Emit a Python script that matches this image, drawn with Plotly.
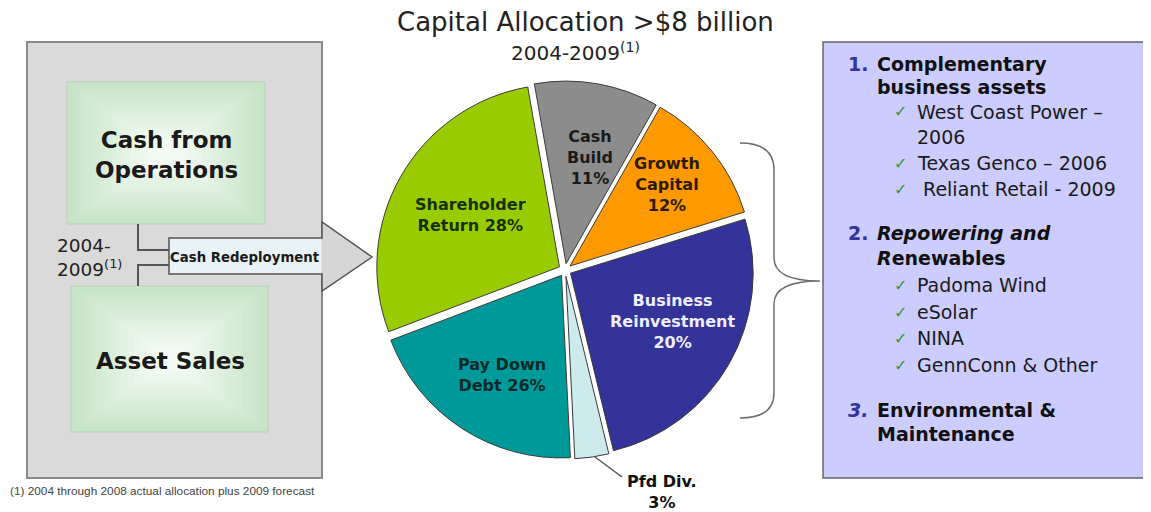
import plotly.graph_objects as go

# page body has an 8px margin, so the figure is offset by 8px inside the 1151x512 window
OFF = 8
W, H = 1151 - OFF, 512 - OFF

# ---------------- data ----------------
slice_labels = ["Cash Build", "Growth Capital", "Business Reinvestment",
                "Pfd Div.", "Pay Down Debt", "Shareholder Return"]
slice_share = [11, 12, 26, 3, 20, 28]          # angular share as drawn
slice_colors = ["#8c8c8c", "#ff9900", "#333399", "#cdeaec", "#009999", "#99cc00"]
slice_text = ["Cash<br>Build<br>11%", "Growth<br>Capital<br>12%",
              "Business<br>Reinvestment<br>20%", "Pfd Div.<br>3%",
              "Pay Down<br>Debt 26%", "Shareholder<br>Return 28%"]
slice_text_color = ["#1a1a1a", "#2b1a00", "#eeeeff", "#111111", "#0b2a2a", "#17300a"]

title_text = "Capital Allocation >$8 billion"
subtitle_text = "2004-2009<sup>(1)</sup>"
source_boxes = ["Cash from<br>Operations", "Asset Sales"]
period_text = "2004-<br>2009<sup>(1)</sup>"
arrow_text = "Cash Redeployment"
footnote = "(1) 2004 through 2008 actual allocation plus 2009 forecast"

section_nums = ["1.", "2.", "<i>3.</i>"]
section_heads = [["Complementary", "business assets"],
                 ["<i>Repowering and</i>", "<i>R</i>enewables"],
                 ["Environmental &", "Maintenance"]]
section_items = [["West Coast Power –", "2006", "Texas Genco – 2006", " Reliant Retail - 2009"],
                 ["Padoma Wind", "eSolar", "NINA", "GennConn & Other"],
                 []]
item_checks = [[True, False, True, True], [True, True, True, True], []]

FONT = "DejaVu Sans"


def px(x):
    return (x - OFF) / W


def py(y):
    return 1 - (y - OFF) / H


fig = go.Figure()

# ---------------- pie ----------------
cx, cy, D = 565, 270, 378
fig.add_trace(go.Pie(
    values=slice_share, labels=slice_labels, sort=False, direction="clockwise",
    rotation=-10, pull=0.035,
    marker=dict(colors=slice_colors, line=dict(color="#3a3a3a", width=1)),
    textinfo="none", hoverinfo="skip", showlegend=False,
    domain=dict(x=[px(cx - D / 2), px(cx + D / 2)], y=[py(cy + D / 2), py(cy - D / 2)]),
))

shapes = []
ann = []


def text(x, y, t, size, color="#1a1a1a", bold=False, xanchor="left", family=FONT, yanchor="middle", align="left"):
    if bold:
        t = "<b>" + t + "</b>"
    ann.append(dict(x=px(x), y=py(y), xref="paper", yref="paper", text=t, showarrow=False,
                    xanchor=xanchor, yanchor=yanchor, align=align,
                    font=dict(family=family, size=size, color=color)))


# ---------------- left panel ----------------
shapes.append(dict(type="rect", xref="paper", yref="paper", x0=px(27), x1=px(322), y0=py(478), y1=py(42),
                   fillcolor="#dadada", line=dict(color="#8a8a8a", width=2), layer="below"))


def grad_box(x0, y0, x1, y1):
    n = 14
    c_out = (198, 229, 198)
    c_in = (247, 252, 247)
    hw, hh = (x1 - x0) / 2, (y1 - y0) / 2
    mx, my = (x0 + x1) / 2, (y0 + y1) / 2
    for i in range(n):
        f = i / n
        c = tuple(int(c_out[k] + (c_in[k] - c_out[k]) * f) for k in range(3))
        s = 1 - 0.9 * f
        shapes.append(dict(type="rect", xref="paper", yref="paper",
                           x0=px(mx - hw * s), x1=px(mx + hw * s),
                           y0=py(my + hh * s), y1=py(my - hh * s),
                           fillcolor="rgb(%d,%d,%d)" % c, line=dict(width=0), layer="below"))
    shapes.append(dict(type="rect", xref="paper", yref="paper", x0=px(x0), x1=px(x1), y0=py(y1), y1=py(y0),
                       fillcolor="rgba(0,0,0,0)", line=dict(color="#b9cfb9", width=1), layer="below"))


grad_box(67, 82, 265, 224)
grad_box(71, 286, 268, 432)

# connectors
shapes.append(dict(type="path", xref="paper", yref="paper",
                   path="M %f,%f L %f,%f L %f,%f" % (px(138), py(224), px(138), py(250), px(169), py(250)),
                   line=dict(color="#555555", width=2)))
shapes.append(dict(type="path", xref="paper", yref="paper",
                   path="M %f,%f L %f,%f L %f,%f" % (px(169), py(265), px(138), py(265), px(138), py(286)),
                   line=dict(color="#555555", width=2)))

# arrow
pts = [(169, 238), (322, 238), (322, 222), (372, 257), (322, 291), (322, 274), (169, 274)]
path = "M " + " L ".join("%f,%f" % (px(a), py(b)) for a, b in pts) + " Z"
shapes.append(dict(type="path", xref="paper", yref="paper", path=path,
                   fillcolor="#d6d6d6", line=dict(color="#555555", width=1.5)))
shapes.append(dict(type="rect", xref="paper", yref="paper", x0=px(170), x1=px(321.5), y0=py(273), y1=py(239),
                   fillcolor="#e9f2f5", line=dict(width=0)))

text(166, 155, source_boxes[0], 23, bold=True, xanchor="center", align="center")
text(170, 361, source_boxes[1], 23, bold=True, xanchor="center", align="center")
text(89, 257, period_text, 18.5, color="#222222", xanchor="center", align="left")
text(245, 257, arrow_text, 13.3, bold=True, xanchor="center")
text(8, 491, footnote, 11.8, color="#444444", family="Liberation Sans")

# ---------------- title ----------------
text(585, 22, title_text, 26, color="#222222", xanchor="center")
text(575, 52, subtitle_text, 20, color="#222222", xanchor="center")

# ---------------- pie labels ----------------
label_pos = [(590, 157), (667, 184), (672, 321), (662, 492), (502, 375), (470, 215)]
for (lx, ly), t, c in zip(label_pos, slice_text, slice_text_color):
    text(lx, ly, t, 16, color=c, bold=True, xanchor="center", align="center")

# leader line for Pfd Div.
shapes.append(dict(type="line", xref="paper", yref="paper", x0=px(595), y0=py(457), x1=px(622), y1=py(477),
                   line=dict(color="#555555", width=1.5)))

# brace
bp = [("M", 740, 143), ("Q", 774, 143, 774, 170), ("L", 774, 258), ("Q", 774, 281, 820, 281),
      ("Q", 774, 281, 774, 304), ("L", 774, 393), ("Q", 774, 418, 740, 418)]
ps = []
for seg in bp:
    cmd = seg[0]
    coords = seg[1:]
    s = cmd + " " + " ".join("%f,%f" % (px(coords[i]), py(coords[i + 1])) for i in range(0, len(coords), 2))
    ps.append(s)
shapes.append(dict(type="path", xref="paper", yref="paper", path=" ".join(ps),
                   line=dict(color="#6e6e6e", width=1.5)))

# ---------------- right panel ----------------
shapes.append(dict(type="rect", xref="paper", yref="paper", x0=px(823), x1=px(1146), y0=py(478), y1=py(42),
                   fillcolor="#ccccff", line=dict(color="#666666", width=1.5), layer="below"))

head_y = [[64, 87], [233, 258], [410, 434]]
item_y = [[112, 137, 163, 189], [285, 312, 338, 365], []]
for k in range(3):
    text(846, head_y[k][0], section_nums[k], 19, color="#333399", bold=True)
    for j, h in enumerate(section_heads[k]):
        text(875, head_y[k][j], h, 19, color="#111111", bold=True)
    for j, it in enumerate(section_items[k]):
        if item_checks[k][j]:
            text(892, item_y[k][j], "✓", 16, color="#339933")
        text(915, item_y[k][j], it, 19, color="#1a1a1a")

fig.update_layout(
    width=W, height=H, margin=dict(l=0, r=0, t=0, b=0),
    paper_bgcolor="white", plot_bgcolor="white",
    shapes=shapes, annotations=ann,
)

fig.write_html("out.html")
